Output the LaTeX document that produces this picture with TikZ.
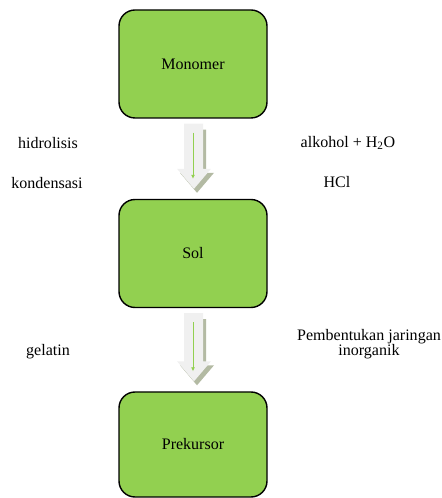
\documentclass[tikz,border=0pt]{standalone}
\usepackage{fontspec}
\setmainfont{Liberation Serif}
\usetikzlibrary{calc,arrows.meta}
\definecolor{hijau}{HTML}{92D050}
\definecolor{abu}{HTML}{F0F0F0}
\definecolor{bayang}{HTML}{B3BAA3}
\tikzset{
  kotak/.style={draw=black,line width=1pt,fill=hijau,rounded corners=0.4cm,
    minimum width=3.7cm,minimum height=2.7cm},
  teks/.style={font=\fontsize{11.4}{10.6}\selectfont,align=center},
}
% bentuk panah blok antara dua titik
\newcommand{\bentukpanah}[2]{
  ($(#1)+(-0.25,0)$) -- ($(#1)+(0.225,0)$) -- ($(#2)+(0.225,0.5)$) -- ($(#2)+(0.425,0.5)$)
  -- (#2) -- ($(#2)+(-0.425,0.5)$) -- ($(#2)+(-0.25,0.5)$) -- cycle
}
\newcommand{\panahblok}[2]{
  \path ($(#1.south)+(0.025,-0.125)$) coordinate (pa) ($(#2.north)+(0.025,0.25)$) coordinate (pb);
  \path ($(pa)+(0.075,-0.15)$) coordinate (sa) ($(pb)+(0.075,-0.1)$) coordinate (sb);
  \fill[bayang] \bentukpanah{sa}{sb};
  \fill[abu] \bentukpanah{pa}{pb};
  \draw[hijau,line width=0.6pt,-{Latex[length=1mm,width=1mm]}] ($(pa)+(-0.025,-0.225)$) -- ($(pb)+(-0.025,0.25)$);
}

\begin{document}
\begin{tikzpicture}
	\useasboundingbox (0,0) rectangle (11.025,12.45);
	\node[kotak,teks] (mono) at (4.825,10.85) {Monomer};
	\node[kotak,teks] (sol) at (4.825,6.1125) {Sol};
	\node[kotak,teks,minimum height=2.625cm] (prek) at (4.825,1.3375) {Prekursor};
	\panahblok{mono}{sol}
	\panahblok{sol}{prek}
	% keterangan
	\node[teks] (hidro) at (1.2,8.875) {hidrolisis};
	\node[teks] (konden) at (1.175,7.875) {kondensasi};
	\node[teks] (alk) at (8.7,8.875) {alkohol + H\textsubscript{2}O};
	\node[teks] (hcl) at (8.425,7.9) {HCl};
	\node[teks] (gel) at (1.2,3.65) {gelatin};
	\node[teks] (jaring) at (9.225,3.8375) {Pembentukan jaringan\\inorganik};
\end{tikzpicture}
\end{document}
